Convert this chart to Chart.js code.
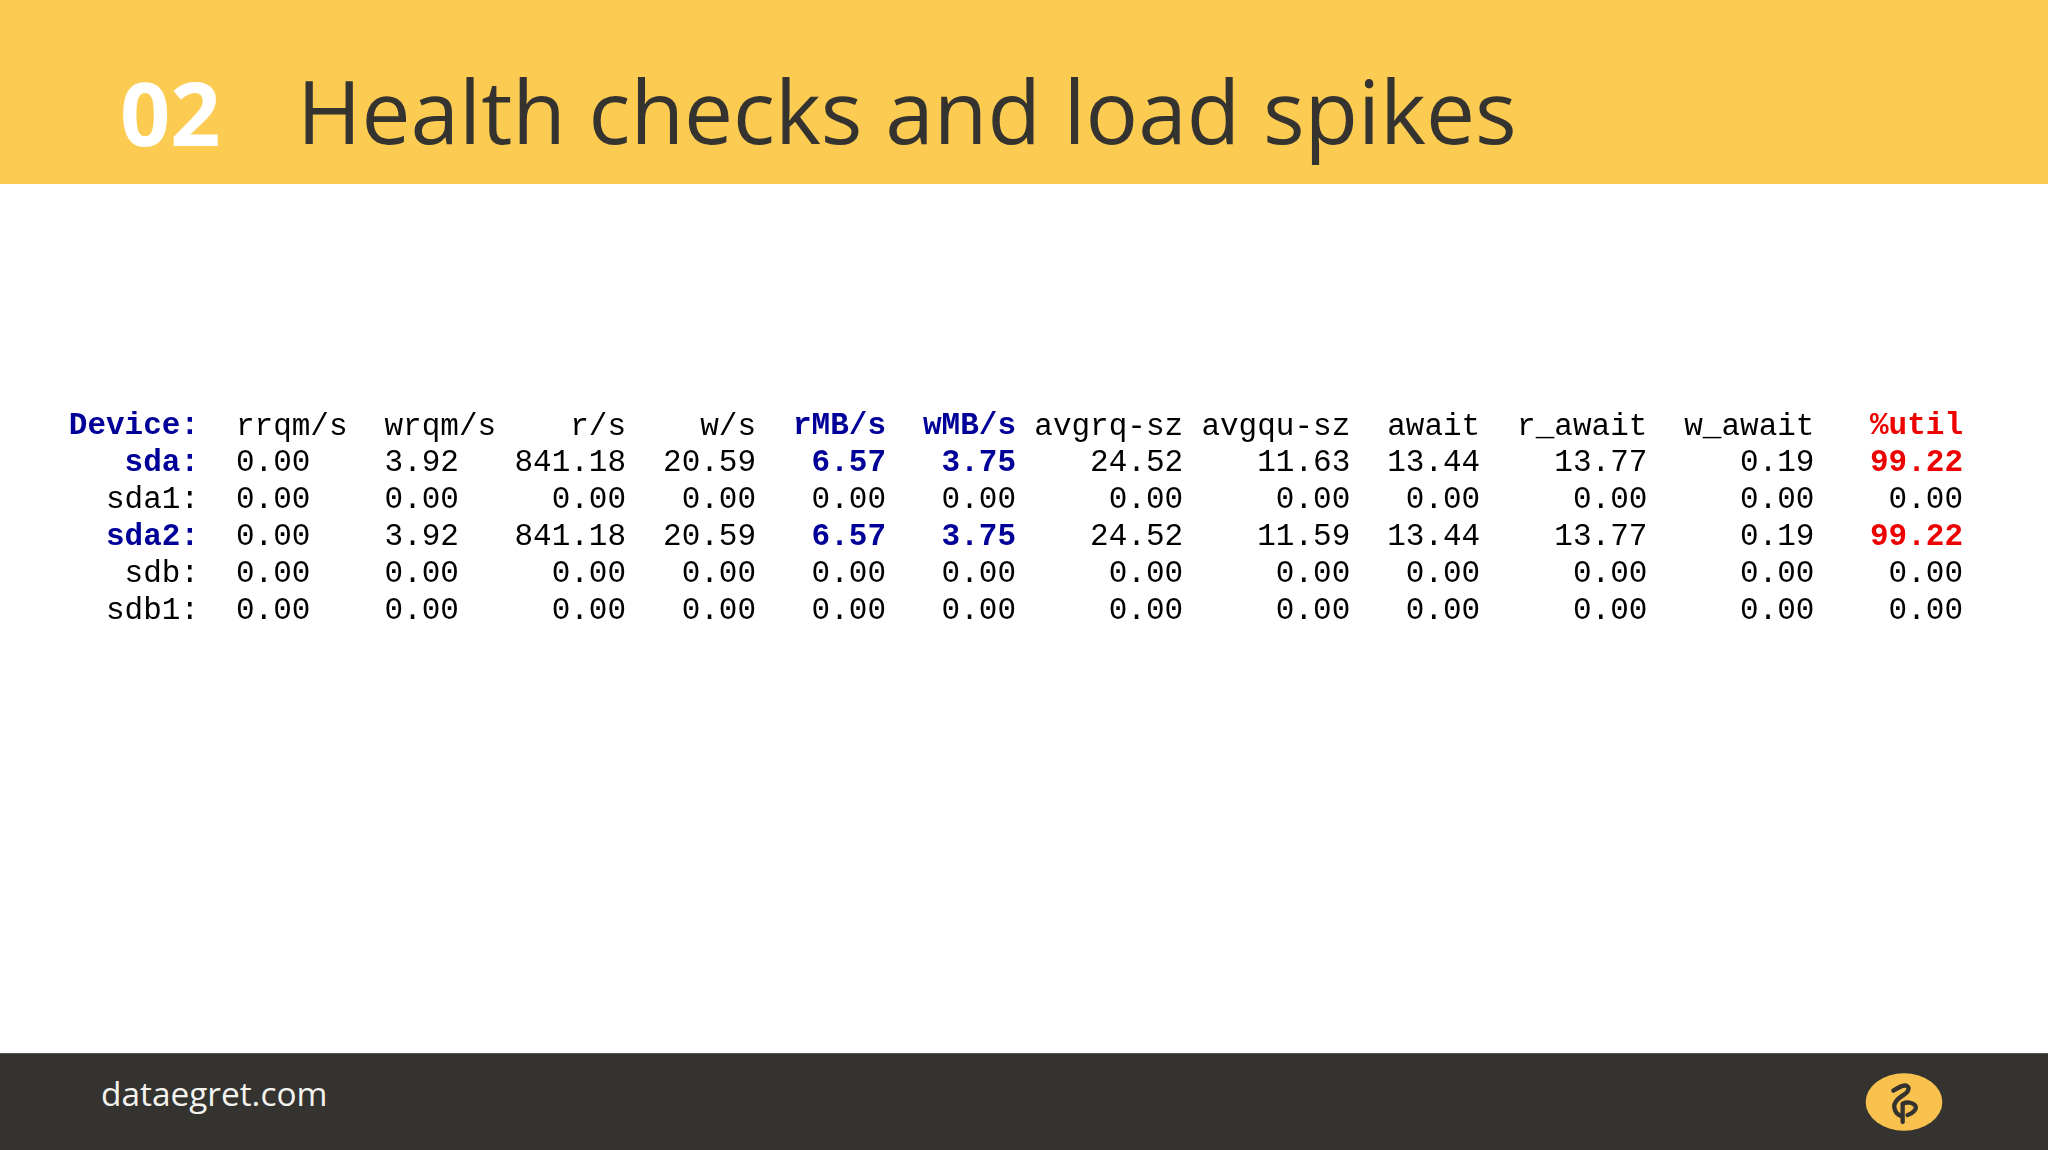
<!DOCTYPE html>
<html>
<head>
<meta charset="utf-8">
<title>Health checks and load spikes</title>
<script src="https://cdn.jsdelivr.net/npm/chart.js@4"></script>
<style>
    html, body { margin: 0; width: 2048px; height: 1150px; overflow: hidden; background: #fff; }
    .band { position: absolute; left: 0; width: 2048px; font-family: "Open Sans", sans-serif; }
    #header { top: 0; height: 184px; background: #fbcb52; }
    #footer { top: 1053px; height: 97px; background: #353330; border-top: 1px solid #55544f; box-sizing: border-box; }
    #num { position: absolute; left: 120px; top: 52px; font-size: 88px; line-height: 120px; font-weight: 700; color: #fff; }
    #title { position: absolute; left: 297px; top: 51px; font-size: 87.4px; line-height: 120px; color: #353330; white-space: nowrap; }
    #site { position: absolute; left: 101px; top: 17px; font-size: 33.4px; line-height: 45px; color: #f4f3ef; }
    #logo { position: absolute; left: 1820px; top: 1040px; }
    #wrap { position: absolute; left: 0; top: 407.5px; width: 2048px; height: 221px; }
</style>
</head>
<body>
<div id="header" class="band">
    <div id="num">02</div>
    <div id="title">Health checks and load spikes</div>
</div>
<div id="footer" class="band">
    <div id="site">dataegret.com</div>
</div>
<svg id="logo" width="160" height="110" viewBox="0 0 480 330">
    <ellipse cx="252" cy="186" rx="115" ry="86" fill="#f9c14e"/>
    <path d="M220 152 C236 142 250 134 259 137 C270 141 267 154 252 164 C232 177 221 187 223 203 C225 216 233 224 241 227 M248 246 L248 191 C262 184 282 188 287 199 C290 208 278 220 263 225"
          fill="none" stroke="#353330" stroke-width="13" stroke-linecap="round" stroke-linejoin="round"/>
</svg>
<div id="wrap"><canvas id="statChart"></canvas></div>

<script>
// iostat output, one list per row
const devices = ['Device:', 'sda:', 'sda1:', 'sda2:', 'sdb:', 'sdb1:'];
const columns = ['rrqm/s', 'wrqm/s', 'r/s', 'w/s', 'rMB/s', 'wMB/s', 'avgrq-sz', 'avgqu-sz', 'await', 'r_await', 'w_await', '%util'];
const sda  = [0, 3.92, 841.18, 20.59, 6.57, 3.75, 24.52, 11.63, 13.44, 13.77, 0.19, 99.22];
const sda1 = [0, 0, 0, 0, 0, 0, 0, 0, 0, 0, 0, 0];
const sda2 = [0, 3.92, 841.18, 20.59, 6.57, 3.75, 24.52, 11.59, 13.44, 13.77, 0.19, 99.22];
const sdb  = [0, 0, 0, 0, 0, 0, 0, 0, 0, 0, 0, 0];
const sdb1 = [0, 0, 0, 0, 0, 0, 0, 0, 0, 0, 0, 0];

// x axis is counted in terminal characters, iostat pads each column to a fixed width
const columnWidths = [8, 8, 7, 7, 7, 7, 9, 9, 7, 9, 9, 8];
const columnEnds = columnWidths.map((w, i) => columnWidths.slice(0, i + 1).reduce((a, b) => a + b, 0));
// rrqm/s and wrqm/s values are printed two characters short of the header
const trailingSpaces = [2, 2, 0, 0, 0, 0, 0, 0, 0, 0, 0, 0];

const MONO = '"Liberation Mono", monospace';
const BLUE = '#000099';
const RED = '#ee0000';
const BLUE_COLUMNS = ['rMB/s', 'wMB/s'];
const BUSY_ROWS = ['sda:', 'sda2:'];

function cellStyle(device, col) {
    const name = columns[col];
    const active = device === 'Device:' || BUSY_ROWS.includes(device);
    if (active && BLUE_COLUMNS.includes(name)) return { color: BLUE, weight: 'bold' };
    if (active && name === '%util') return { color: RED, weight: 'bold' };
    return { color: '#000000', weight: 'normal' };
}

function makeRow(device, cells) {
    return {
        label: device,
        cells: cells,
        data: cells.map((cell, i) => ({
            x: columnEnds[i] - (typeof cell === 'number' ? trailingSpaces[i] : 0),
            y: device
        })),
        pointRadius: 0
    };
}

// draws each cell's text where the scales placed its point
const cellText = {
    id: 'cellText',
    afterDatasetsDraw(chart) {
        const ctx = chart.ctx;
        ctx.save();
        ctx.textAlign = 'right';
        ctx.textBaseline = 'middle';
        chart.data.datasets.forEach((ds, d) => {
            chart.getDatasetMeta(d).data.forEach((pt, i) => {
                const style = cellStyle(ds.label, i);
                const cell = ds.cells[i];
                ctx.font = `${style.weight} 31px ${MONO}`;
                ctx.fillStyle = style.color;
                ctx.fillText(typeof cell === 'number' ? cell.toFixed(2) : cell, pt.x, pt.y);
            });
        });
        ctx.restore();
    }
};

new Chart(document.getElementById('statChart'), {
    type: 'scatter',
    data: {
        datasets: [
            makeRow('Device:', columns),
            makeRow('sda:', sda),
            makeRow('sda1:', sda1),
            makeRow('sda2:', sda2),
            makeRow('sdb:', sdb),
            makeRow('sdb1:', sdb1)
        ]
    },
    options: {
        responsive: true,
        maintainAspectRatio: false,
        animation: false,
        layout: { padding: { left: 0, right: 85, top: 0, bottom: 0 } },
        plugins: { legend: { display: false }, tooltip: { enabled: false } },
        scales: {
            x: {
                type: 'linear',
                display: false,
                min: 0,
                max: 95
            },
            y: {
                type: 'category',
                labels: devices,
                offset: true,
                afterFit: scale => {
                    scale.width = 199;
                    scale.paddingTop = 0;
                    scale.paddingBottom = 0;
                },
                border: { display: false },
                grid: { display: false, drawTicks: false },
                ticks: {
                    padding: 0,
                    autoSkip: false,
                    color: ctx => ['Device:', ...BUSY_ROWS].includes(devices[ctx.index]) ? BLUE : '#000000',
                    font: ctx => ({
                        family: MONO,
                        size: 31,
                        weight: ['Device:', ...BUSY_ROWS].includes(devices[ctx.index]) ? 'bold' : 'normal'
                    })
                }
            }
        }
    },
    plugins: [cellText]
});
</script>
</body>
</html>
